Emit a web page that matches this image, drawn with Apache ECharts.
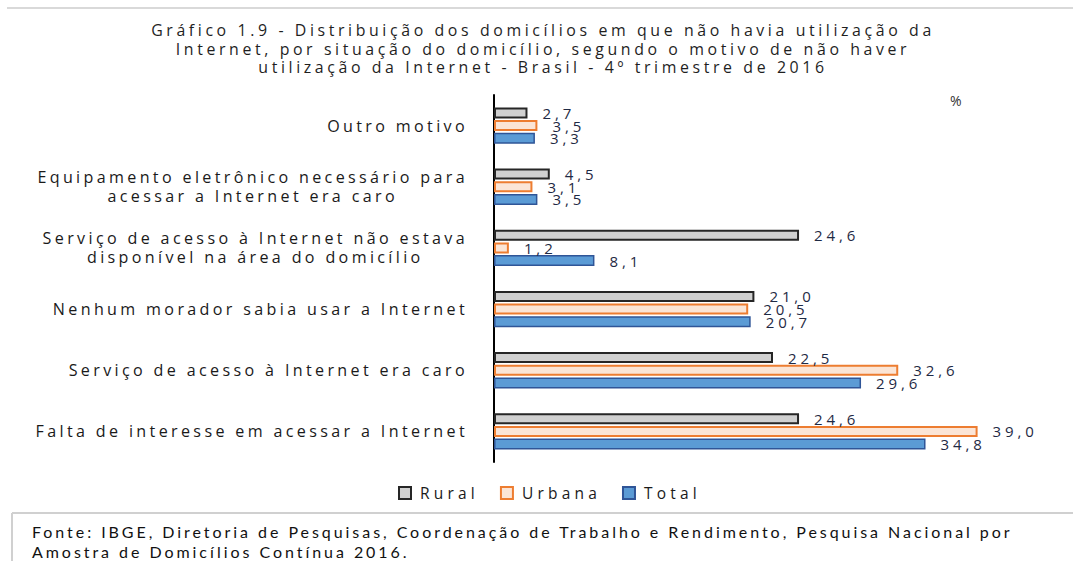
<!DOCTYPE html>
<html>
<head>
<meta charset="utf-8">
<script src="https://cdn.jsdelivr.net/npm/echarts@6/dist/echarts.min.js"></script>
<style>
html,body{margin:0;padding:0;background:#fff;}
#c{width:1073px;height:561px;}
</style>
</head>
<body>
<div id="c"></div>
<script>
// ---- data ----
const categories = [
  'Outro motivo',
  'Equipamento eletrônico necessário para\nacessar a Internet era caro',
  'Serviço de acesso à Internet não estava\ndisponível na área do domicílio',
  'Nenhum morador sabia usar a Internet',
  'Serviço de acesso à Internet era caro',
  'Falta de interesse em acessar a Internet'
];
const seriesNames = ['Rural', 'Urbana', 'Total'];
const rural  = [2.7, 4.5, 24.6, 21.0, 22.5, 24.6];
const urbana = [3.5, 3.1, 1.2, 20.5, 32.6, 39.0];
const total  = [3.3, 3.5, 8.1, 20.7, 29.6, 34.8];
const titleText = 'Gráfico 1.9 - Distribuição dos domicílios em que não havia utilização da\nInternet, por situação do domicílio, segundo o motivo de não haver\nutilização da Internet - Brasil - 4º trimestre de 2016';
const sourceText = 'Fonte: IBGE, Diretoria de Pesquisas, Coordenação de Trabalho e Rendimento, Pesquisa Nacional por\nAmostra de Domicílios Contínua 2016.';
const unitText = '%';

// ---- letter spacing (by font size) ----
const SPACING = {'16.1': 3.35, '15.9': 3.6, '15': 3.9, '15.5': 4.2, '16': 2.95, '14': 1};
(function () {
  let css = '';
  for (const k in SPACING) css += '#c text[style*="' + k + 'px"]{letter-spacing:' + SPACING[k] + 'px;}\n';
  const st = document.createElement('style'); st.textContent = css; document.head.appendChild(st);
})();
const mctx = document.createElement('canvas').getContext('2d');
if (echarts.setPlatformAPI) {
  echarts.setPlatformAPI({
    measureText: function (text, font) {
      mctx.font = font || '12px sans-serif';
      const m = /([\d.]+)px/.exec(font || '');
      const sp = (m && SPACING[String(parseFloat(m[1]))]) || 0;
      return { width: mctx.measureText(text).width + sp * Array.from(text || '').length };
    }
  });
}

const fmt = p => p.value.toFixed(1).replace('.', ',');
const FONT = 'Open Sans';
const labelStyle = {
  show: true, position: 'right', distance: 15, formatter: fmt,
  fontFamily: FONT, fontSize: 15, lineHeight: 13, color: '#1f2a44'
};

const chart = echarts.init(document.getElementById('c'), null, { renderer: 'svg' });
chart.setOption({
  animation: false,
  backgroundColor: '#ffffff',
  title: [
    {
      text: titleText, left: 543, textAlign: 'center', top: 21, padding: 0,
      textStyle: { fontFamily: FONT, fontSize: 15.9, fontWeight: 'normal', color: '#1f1f1f', lineHeight: 18.5 }
    },
    {
      text: sourceText, left: 32, top: 521, padding: 0,
      textStyle: { fontFamily: 'Lato', fontSize: 16, fontWeight: 'normal', color: '#111111', lineHeight: 20 }
    }
  ],
  legend: {
    data: seriesNames, left: 398, top: 483, padding: 0, icon: 'rect',
    itemWidth: 12, itemHeight: 12, itemGap: 21,
    textStyle: { fontFamily: FONT, fontSize: 15.5, color: '#1a1a1a', padding: [0, 0, 0, 4] }
  },
  grid: { left: 494, right: 83, top: 95, bottom: 99 },
  xAxis: { type: 'value', min: 0, max: 40, show: false },
  yAxis: {
    type: 'category', data: categories, inverse: true,
    axisLine: { lineStyle: { color: '#000000', width: 2 } },
    axisTick: { show: false },
    axisLabel: {
      margin: 26, align: 'right',
      formatter: v => v.split('\n').map(l => '{c|' + l + '}').join('\n'),
      rich: { c: { align: 'center', fontFamily: FONT, fontSize: 16.1, color: '#1a1a1a', lineHeight: 19 } }
    }
  },
  graphic: [
    { type: 'line', shape: { x1: 7, y1: 8, x2: 1073, y2: 8 }, style: { stroke: '#d9d9d9', lineWidth: 2 } },
    { type: 'line', shape: { x1: 12, y1: 513, x2: 1073, y2: 513 }, style: { stroke: '#d0d0d0', lineWidth: 2 } },
    { type: 'line', shape: { x1: 12, y1: 513, x2: 12, y2: 561 }, style: { stroke: '#d0d0d0', lineWidth: 2 } },
    { type: 'text', left: 950, top: 93, style: { text: unitText, fontFamily: FONT, fontSize: 14, fill: '#333333' } }
  ],
  series: [
    {
      name: 'Rural', type: 'bar', data: rural, barWidth: 11, barGap: '15%', barCategoryGap: '30%',
      itemStyle: { color: '#d0d0d0', borderColor: '#262626', borderWidth: 2 },
      label: labelStyle
    },
    {
      name: 'Urbana', type: 'bar', data: urbana, barWidth: 11, barGap: '15%',
      itemStyle: { color: '#fbe5d6', borderColor: '#ed7d31', borderWidth: 2 },
      label: labelStyle
    },
    {
      name: 'Total', type: 'bar', data: total, barWidth: 11, barGap: '15%',
      itemStyle: { color: '#5b9bd5', borderColor: '#2f5597', borderWidth: 1.5 },
      label: labelStyle
    }
  ]
});
</script>
</body>
</html>
